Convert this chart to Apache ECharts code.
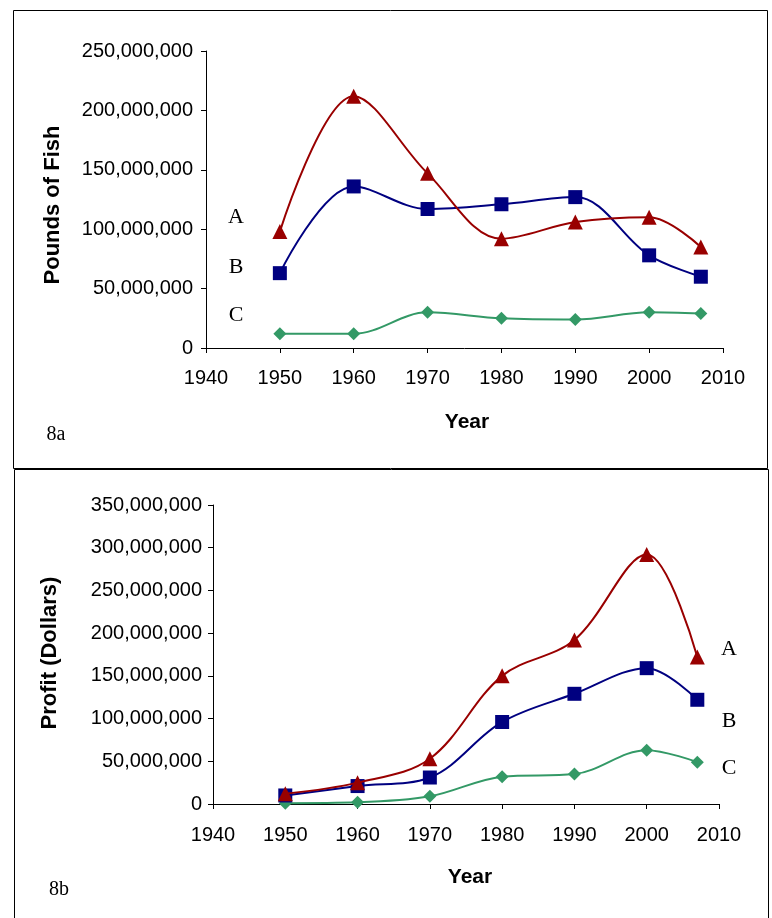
<!DOCTYPE html>
<html>
<head>
<meta charset="utf-8">
<script src="https://cdn.jsdelivr.net/npm/echarts@6/dist/echarts.min.js"></script>
<style>
  html, body { margin: 0; padding: 0; background: #fff; }
  #chart { width: 772px; height: 918px; }
</style>
</head>
<body>
<div id="chart"></div>
<script>
const years = [1950, 1960, 1970, 1980, 1990, 2000, 2007];

// 8a - pounds of fish
const poundsA = [98000000, 212000000, 147000000, 92000000, 106000000, 110000000, 85000000];
const poundsB = [63000000, 136000000, 117000000, 121000000, 127000000, 78000000, 60000000];
const poundsC = [12000000, 12000000, 30000000, 25000000, 24000000, 30000000, 29000000];

// 8b - profit in dollars
const profitA = [12000000, 25000000, 53000000, 150000000, 192000000, 292000000, 172000000];
const profitB = [10000000, 21000000, 31000000, 96000000, 129000000, 159000000, 122000000];
const profitC = [1000000, 2000000, 9000000, 32000000, 35000000, 63000000, 49000000];

const seriesNames = ['A', 'B', 'C'];
const colors = ['#990000', '#000080', '#339966'];
const symbols = ['triangle', 'rect', 'diamond'];
const symbolSizes = [15, 14, 13];

const sans = "'Liberation Sans', Arial, sans-serif";
const serif = "'Liberation Serif', 'Times New Roman', serif";

const pair = vals => years.map((y, i) => [y, vals[i]]);

function xAxisFor(gridIndex, margin) {
  return {
    gridIndex,
    type: 'value',
    min: 1940,
    max: 2010,
    interval: 10,
    axisLine: { onZero: false, lineStyle: { color: '#000', width: 1 } },
    axisTick: { show: true, inside: false, length: 5, lineStyle: { color: '#000' } },
    axisLabel: { color: '#000', fontFamily: sans, fontSize: 20, margin, formatter: v => String(v) },
    splitLine: { show: false },
  };
}

function yAxisFor(gridIndex, max, margin) {
  return {
    gridIndex,
    type: 'value',
    min: 0,
    max,
    interval: 50000000,
    axisLine: { show: true, lineStyle: { color: '#000', width: 1 } },
    axisTick: { show: true, inside: false, length: 5, lineStyle: { color: '#000' } },
    axisLabel: {
      color: '#000',
      fontFamily: sans,
      fontSize: 20,
      margin,
      formatter: v => v.toLocaleString('en-US'),
    },
    splitLine: { show: false },
  };
}

function lines(axisIndex, data) {
  return data.map((vals, i) => ({
    name: seriesNames[i],
    type: 'line',
    xAxisIndex: axisIndex,
    yAxisIndex: axisIndex,
    data: pair(vals),
    smooth: 0.35,
    symbol: symbols[i],
    symbolSize: symbolSizes[i],
    showAllSymbol: true,
    lineStyle: { color: colors[i], width: 2 },
    itemStyle: { color: colors[i] },
    z: 3 - i,
  }));
}

function text(str, x, y, font, size, bold, rotate) {
  return {
    type: 'text',
    x, y,
    rotation: rotate ? Math.PI / 2 : 0,
    style: {
      text: str,
      fill: '#000',
      font: (bold ? 'bold ' : '') + size + 'px ' + font,
      align: 'center',
      verticalAlign: 'middle',
    },
  };
}

const chart = echarts.init(document.getElementById('chart'));
chart.setOption({
  animation: false,
  backgroundColor: '#fff',
  grid: [
    { left: 206, top: 51, width: 517, height: 297 },
    { left: 213, top: 505, width: 506, height: 299 },
  ],
  xAxis: [xAxisFor(0, 20), xAxisFor(1, 21)],
  yAxis: [yAxisFor(0, 250000000, 13), yAxisFor(1, 350000000, 11)],
  series: [
    ...lines(0, [poundsA, poundsB, poundsC]),
    ...lines(1, [profitA, profitB, profitC]),
  ],
  graphic: [
    { type: 'rect', shape: { x: 13.5, y: 10.5, width: 754, height: 458 }, style: { fill: 'none', stroke: '#000', lineWidth: 1 } },
    { type: 'rect', shape: { x: 14.5, y: 469.5, width: 754, height: 470 }, style: { fill: 'none', stroke: '#000', lineWidth: 1 } },
    text('Pounds of Fish', 53, 205, sans, 22, true, true),
    text('Year', 467, 422, sans, 21, true),
    text('8a', 56, 435, serif, 20),
    text('A', 236, 217, serif, 22),
    text('B', 236, 267, serif, 22),
    text('C', 236, 315, serif, 22),
    text('Profit (Dollars)', 50, 653, sans, 22, true, true),
    text('Year', 470, 877, sans, 21, true),
    text('8b', 59, 890, serif, 20),
    text('A', 729, 649, serif, 22),
    text('B', 729, 721, serif, 22),
    text('C', 729, 768, serif, 22),
  ],
});
</script>
</body>
</html>
